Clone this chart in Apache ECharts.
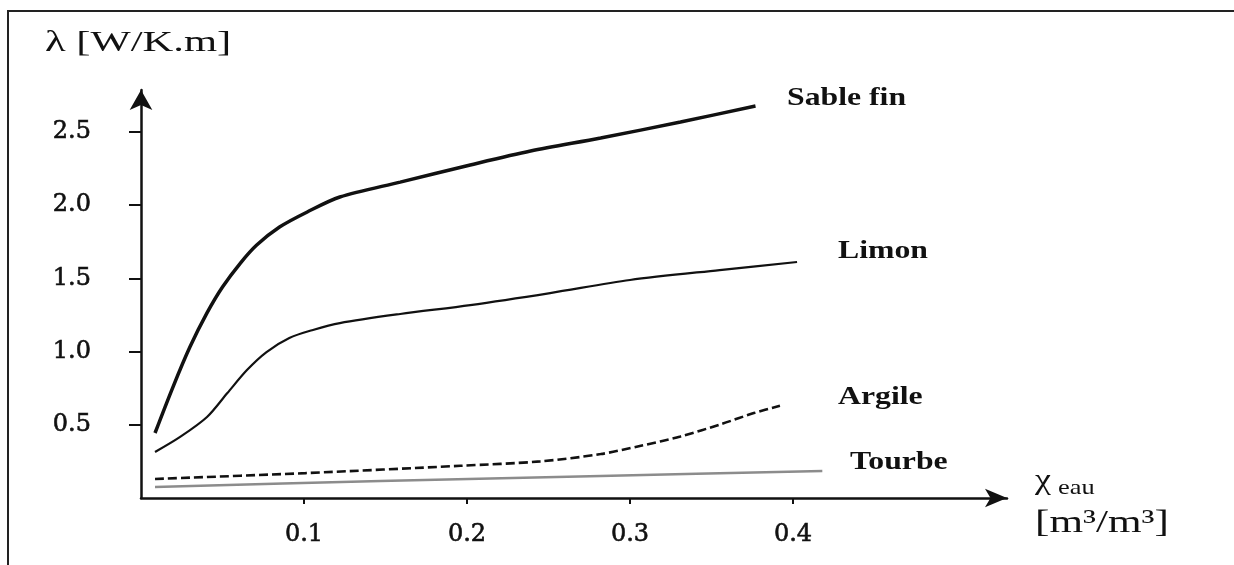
<!DOCTYPE html>
<html>
<head>
<meta charset="utf-8">
<script src="https://cdn.jsdelivr.net/npm/echarts@6.0.0/dist/echarts.min.js"></script>
<style>
  html, body { margin: 0; padding: 0; background: #fff; }
  #chart { width: 1234px; height: 565px; }
</style>
</head>
<body>
<div id="chart"></div>
<script>
// water content (m3/m3) vs thermal conductivity (W/K.m)
const sableFin = [[0.0086, 0.444], [0.0196, 0.758], [0.030, 1.031], [0.0405, 1.264], [0.050, 1.441],
    [0.061, 1.605], [0.071, 1.728], [0.085, 1.851], [0.102, 1.954], [0.122, 2.056], [0.159, 2.158],
    [0.202, 2.275], [0.239, 2.370], [0.282, 2.459], [0.331, 2.568], [0.377, 2.678]]
const limon = [[0.0086, 0.314], [0.024, 0.417], [0.0405, 0.553], [0.053, 0.717], [0.065, 0.874],
    [0.077, 0.997], [0.091, 1.093], [0.1055, 1.148], [0.122, 1.195], [0.159, 1.257], [0.202, 1.318],
    [0.251, 1.400], [0.300, 1.489], [0.355, 1.557], [0.4025, 1.612]]
const argile = [[0.0086, 0.13], [0.101, 0.17], [0.196, 0.22], [0.245, 0.25], [0.282, 0.30],
    [0.306, 0.355], [0.331, 0.42], [0.356, 0.505], [0.376, 0.58], [0.392, 0.63]]
const tourbe = [[0.0086, 0.075], [0.147, 0.116], [0.282, 0.15], [0.418, 0.185]]

const xTicks = [0.1, 0.2, 0.3, 0.4]
const yTicks = [0.5, 1.0, 1.5, 2.0, 2.5]
const seriesNames = ['Sable fin', 'Limon', 'Argile', 'Tourbe']

const SERIF = 'Liberation Serif'
const TICK_FONT = 'DejaVu Serif'
const INK = '#111'

const chart = echarts.init(document.getElementById('chart'), null, { renderer: 'canvas' })

const textEl = (text, x, y, size, weight, scaleX) => ({
    type: 'text',
    x: x,
    y: y,
    scaleX: scaleX,
    style: {
        text: text,
        fill: INK,
        fontFamily: SERIF,
        fontSize: size,
        fontWeight: weight,
        align: 'left',
        verticalAlign: 'middle'
    }
})

const tickLabel = {
    color: INK,
    fontFamily: TICK_FONT,
    fontSize: 24,
    textBorderColor: INK,
    textBorderWidth: 0.6,
    formatter: v => v.toFixed(1)
}

chart.setOption({
    backgroundColor: '#fff',
    animation: false,
    grid: {
        left: 141,
        right: 227,
        top: 90,
        bottom: 67
    },
    xAxis: {
        type: 'value',
        min: 0,
        max: 0.5313,
        axisLine: {
            show: true,
            symbol: ['none', 'arrow'],
            symbolSize: [14, 22],
            lineStyle: { color: INK, width: 2.5 }
        },
        axisTick: {
            show: true,
            length: 6,
            customValues: xTicks,
            lineStyle: { color: INK, width: 2 }
        },
        axisLabel: { ...tickLabel, customValues: xTicks, margin: 25 },
        splitLine: { show: false }
    },
    yAxis: {
        type: 'value',
        min: 0,
        max: 2.787,
        axisLine: {
            show: true,
            symbol: ['none', 'arrow'],
            symbolSize: [17, 20],
            lineStyle: { color: INK, width: 2.5 }
        },
        axisTick: {
            show: true,
            length: 12,
            customValues: yTicks,
            lineStyle: { color: INK, width: 2 }
        },
        axisLabel: { ...tickLabel, customValues: yTicks, margin: 50 },
        splitLine: { show: false }
    },
    series: [
        {
            name: seriesNames[0],
            type: 'line',
            data: sableFin,
            smooth: 0.3,
            showSymbol: false,
            lineStyle: { color: INK, width: 3.5 }
        },
        {
            name: seriesNames[1],
            type: 'line',
            data: limon,
            smooth: 0.3,
            showSymbol: false,
            lineStyle: { color: INK, width: 2.2 }
        },
        {
            name: seriesNames[2],
            type: 'line',
            data: argile,
            smooth: 0.3,
            showSymbol: false,
            lineStyle: { color: INK, width: 2.6, type: [9, 4] }
        },
        {
            name: seriesNames[3],
            type: 'line',
            data: tourbe,
            smooth: 0.3,
            showSymbol: false,
            lineStyle: { color: '#8c8c8c', width: 2.5 }
        }
    ],
    graphic: [
        // frame around the figure (only top and left edges fall in view)
        {
            type: 'rect',
            shape: { x: 8, y: 11, width: 1300, height: 700 },
            style: { fill: 'none', stroke: '#222', lineWidth: 2 }
        },
        textEl('λ [W/K.m]', 45, 43, 30, 'normal', 1.42),
        textEl('χ', 1035, 481, 30, 'normal', 1.2),
        textEl('eau', 1058, 488, 22, 'normal', 1.2),
        textEl('[m³/m³]', 1035, 524, 32, 'normal', 1.35),
        textEl(seriesNames[0], 787, 99, 25, 'bold', 1.27),
        textEl(seriesNames[1], 838, 252, 25, 'bold', 1.27),
        textEl(seriesNames[2], 838, 398, 25, 'bold', 1.27),
        textEl(seriesNames[3], 850, 463, 25, 'bold', 1.27)
    ]
})
</script>
</body>
</html>
